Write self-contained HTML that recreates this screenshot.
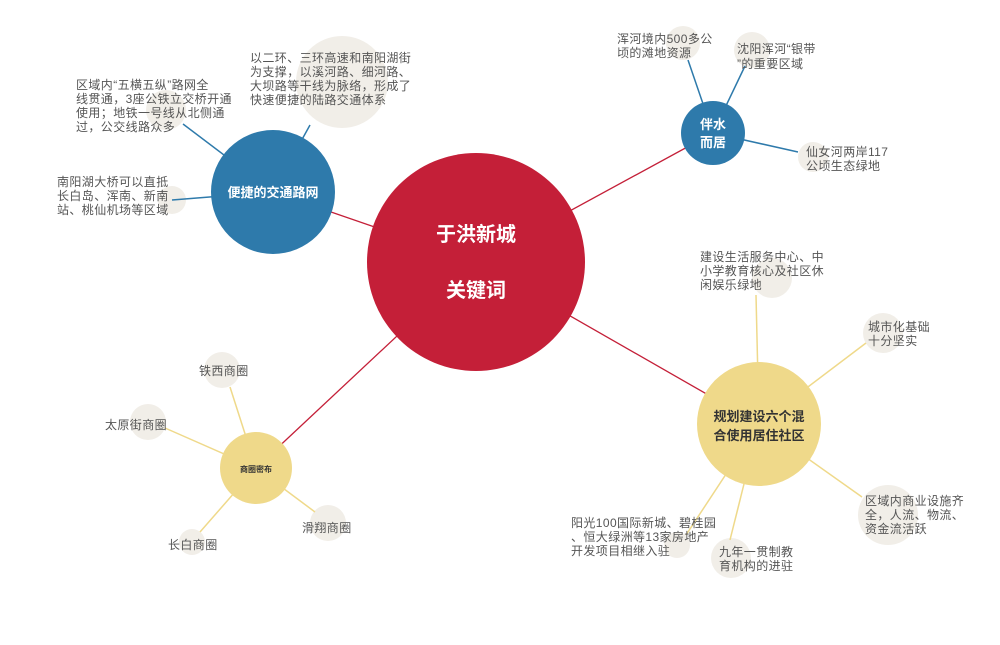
<!DOCTYPE html>
<html><head><meta charset="utf-8"><style>
body{margin:0;background:#fff}
svg text{font-family:"Liberation Sans","Noto Sans CJK SC",sans-serif}
.t{fill:#555;font-size:12px;letter-spacing:0.4px}
</style></head><body>
<svg width="1000" height="640" xmlns="http://www.w3.org/2000/svg">
<g stroke="#c41f38" stroke-width="1.3">
<line x1="476" y1="262" x2="273" y2="192"/>
<line x1="476" y1="262" x2="713" y2="133"/>
<line x1="476" y1="262" x2="256" y2="468"/>
<line x1="476" y1="262" x2="759" y2="424"/>
</g>
<g fill="#f1eee8">
<circle cx="342" cy="82" r="46"/><circle cx="166" cy="110" r="20"/><circle cx="172" cy="200" r="14"/>
<circle cx="683" cy="43" r="17"/><circle cx="752" cy="50" r="18"/><circle cx="813" cy="157" r="15"/>
<circle cx="772" cy="278" r="20"/><circle cx="883" cy="333" r="20"/><circle cx="888" cy="515" r="30"/>
<circle cx="677" cy="545" r="13"/><circle cx="731" cy="558" r="20"/>
<circle cx="222" cy="370" r="18"/><circle cx="148" cy="422" r="18"/><circle cx="328" cy="523" r="18"/><circle cx="192" cy="542" r="13"/>
</g>
<g stroke="#2e7aab" stroke-width="1.5">
<line x1="273" y1="192" x2="183" y2="124"/><line x1="273" y1="192" x2="310" y2="125"/><line x1="273" y1="192" x2="172" y2="200"/>
<line x1="713" y1="133" x2="688" y2="60"/><line x1="713" y1="133" x2="745" y2="66"/><line x1="713" y1="133" x2="798" y2="152"/>
</g>
<g stroke="#efd98a" stroke-width="1.5">
<line x1="759" y1="424" x2="756" y2="295"/><line x1="759" y1="424" x2="866" y2="343"/><line x1="759" y1="424" x2="862" y2="497"/>
<line x1="759" y1="424" x2="686" y2="535"/><line x1="759" y1="424" x2="730" y2="540"/>
<line x1="256" y1="468" x2="230" y2="387"/><line x1="256" y1="468" x2="165" y2="428"/><line x1="256" y1="468" x2="315" y2="512"/><line x1="256" y1="468" x2="200" y2="532"/>
</g>
<circle cx="476" cy="262" r="109" fill="#c41f38"/>
<circle cx="273" cy="192" r="62" fill="#2e7aab"/>
<circle cx="713" cy="133" r="32" fill="#2e7aab"/>
<circle cx="759" cy="424" r="62" fill="#efd98a"/>
<circle cx="256" cy="468" r="36" fill="#efd98a"/>
<g fill="#fff" font-weight="bold" text-anchor="middle">
<text x="476" y="241" font-size="20">于洪新城</text>
<text x="476" y="297" font-size="20">关键词</text>
<text x="273" y="197" font-size="13">便捷的交通路网</text>
<text x="713" y="129" font-size="13">伴水</text>
<text x="713" y="147" font-size="13">而居</text>
</g>
<g fill="#333" font-weight="bold" text-anchor="middle">
<text x="759" y="421" font-size="13">规划建设六个混</text>
<text x="759" y="440" font-size="13">合使用居住社区</text>
<text x="256" y="472" font-size="8">商圈密布</text>
</g>
<g class="t">
<text x="250" y="62">以二环、三环高速和南阳湖街</text>
<text x="250" y="76">为支撑，以溪河路、细河路、</text>
<text x="250" y="90">大坝路等干线为脉络，形成了</text>
<text x="250" y="104">快速便捷的陆路交通体系</text>
<text x="76" y="89">区域内“五横五纵”路网全</text>
<text x="76" y="103">线贯通，3座公铁立交桥开通</text>
<text x="76" y="117">使用；地铁一号线从北侧通</text>
<text x="76" y="131">过，公交线路众多</text>
<text x="57" y="186">南阳湖大桥可以直抵</text>
<text x="57" y="200">长白岛、浑南、新南</text>
<text x="57" y="214">站、桃仙机场等区域</text>
<text x="617" y="43">浑河境内500多公</text>
<text x="617" y="57">顷的滩地资源</text>
<text x="737" y="53">沈阳浑河“银带</text>
<text x="737" y="68">”的重要区域</text>
<text x="806" y="156">仙女河两岸117</text>
<text x="806" y="170">公顷生态绿地</text>
<text x="700" y="261">建设生活服务中心、中</text>
<text x="700" y="275">小学教育核心及社区休</text>
<text x="700" y="289">闲娱乐绿地</text>
<text x="868" y="331">城市化基础</text>
<text x="868" y="345">十分坚实</text>
<text x="865" y="505">区域内商业设施齐</text>
<text x="865" y="519">全，人流、物流、</text>
<text x="865" y="533">资金流活跃</text>
<text x="571" y="527">阳光100国际新城、碧桂园</text>
<text x="571" y="541">、恒大绿洲等13家房地产</text>
<text x="571" y="555">开发项目相继入驻</text>
<text x="719" y="556">九年一贯制教</text>
<text x="719" y="570">育机构的进驻</text>
<text x="199" y="375">铁西商圈</text>
<text x="105" y="429">太原街商圈</text>
<text x="302" y="532">滑翔商圈</text>
<text x="168" y="549">长白商圈</text>
</g>
</svg>
</body></html>
